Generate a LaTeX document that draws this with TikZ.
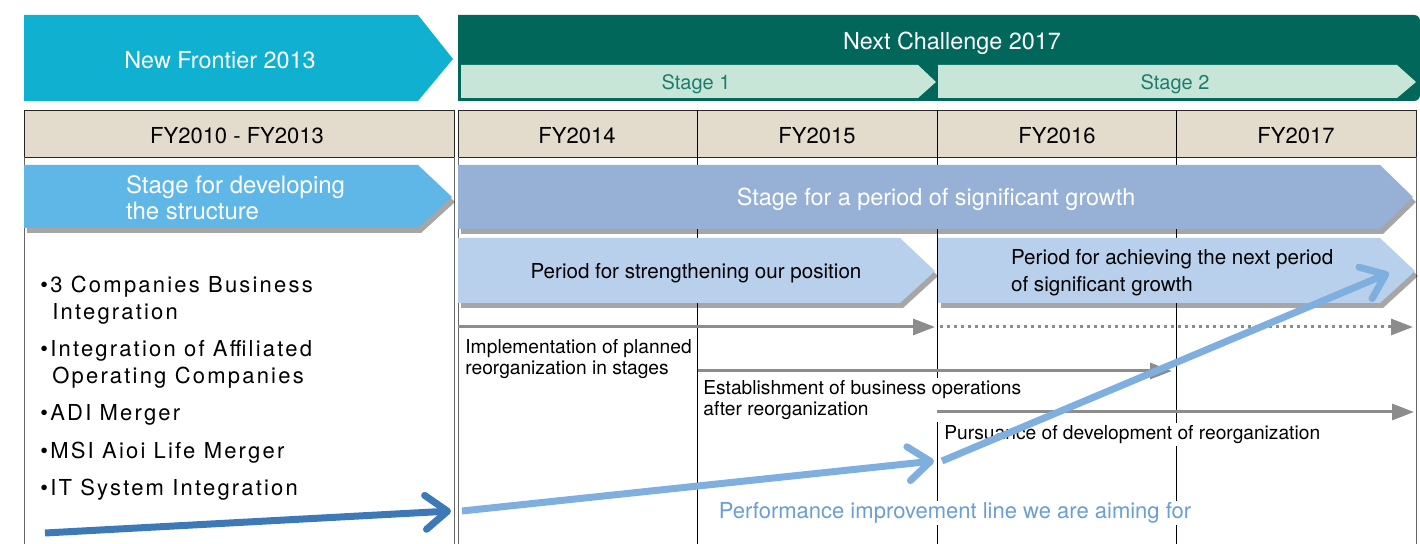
\documentclass[tikz,border=0pt]{standalone}
\usepackage{fontspec}
\setmainfont{TeX Gyre Heros}
\newfontfamily\widefont[LetterSpace=10]{TeX Gyre Heros}
\usetikzlibrary{arrows.meta,shadows}

\definecolor{nfcyan}{RGB}{16,176,208}
\definecolor{ncgreen}{RGB}{2,103,91}
\definecolor{stgreen}{RGB}{200,230,216}
\definecolor{stteal}{RGB}{30,124,108}
\definecolor{hdrbeige}{RGB}{227,220,204}
\definecolor{devblue}{RGB}{95,183,232}
\definecolor{growblue}{RGB}{151,176,214}
\definecolor{periodblue}{RGB}{184,208,236}
\definecolor{perfdark}{RGB}{61,121,182}
\definecolor{perflight}{RGB}{127,175,223}
\definecolor{perftext}{RGB}{106,158,214}

\begin{document}
\begin{tikzpicture}[x=0.5pt,y=-0.5pt,
  bigtext/.style={font=\fontsize{11.7}{13}\selectfont, text=white},
  yeartext/.style={font=\fontsize{11}{13}\selectfont},
  periodtext/.style={font=\fontsize{10.3}{13.5}\selectfont, align=left},
  notetext/.style={font=\fontsize{9.6}{10.5}\selectfont, align=left, fill=white, inner sep=1pt, anchor=north west},
  itemtext/.style={font=\widefont\fontsize{11}{13.5}\selectfont, align=left, anchor=west, inner sep=0pt},
  shade/.style={drop shadow={shadow xshift=1.5pt, shadow yshift=-2.5pt, fill=black, opacity=0.35}},
  steparrow/.style={draw=black!45, line width=1.5pt, -{Triangle[length=11pt,width=8pt]}},
  perfarrow/.style={line width=3.5pt, -{Straight Barb[length=11pt,width=17pt,round]}}]
  \useasboundingbox (0,0) rectangle (1420,544);

  % plans along the top
  \fill[nfcyan] (24,15) -- (418,15) -- (453,59) -- (418,101) -- (24,101) -- cycle;
  \node[bigtext] (nf) at (220,60) {New Frontier 2013};
  \fill[ncgreen] (458,101) -- (458,15) [rounded corners=3pt] -- (1420,15) -- (1420,101) [sharp corners] -- cycle;
  \node[bigtext] (nc) at (952,43) {Next Challenge 2017};
  \fill[stgreen] (461,65) -- (918,65) -- (936,82) -- (918,98) -- (461,98) -- cycle;
  \fill[stgreen] (938,65) -- (1397,65) -- (1416,82) -- (1397,98) -- (938,98) -- cycle;
  \node[font=\fontsize{10}{12}\selectfont, text=stteal] (stage one) at (696,84) {Stage 1};
  \node[font=\fontsize{10}{12}\selectfont, text=stteal] (stage two) at (1175,84) {Stage 2};

  % year table
  \filldraw[fill=hdrbeige, draw=black!85] (24,110) rectangle (454,157);
  \filldraw[fill=hdrbeige, draw=black!85] (458,110) rectangle (1416,157);
  \draw[black!60] (24,157) -- (24,544) (454,157) -- (454,544) (458,157) -- (458,544) (1416,157) -- (1416,544);
  \foreach \xx in {697,937,1176}
    \draw (\xx,110) -- (\xx,544);
  \node[yeartext] (fy old) at (237,136) {FY2010 - FY2013};
  \node[yeartext] (fy14) at (577,136) {FY2014};
  \node[yeartext] (fy15) at (817,136) {FY2015};
  \node[yeartext] (fy16) at (1057,136) {FY2016};
  \node[yeartext] (fy17) at (1296,136) {FY2017};

  % stages
  \fill[devblue, shade] (24,165) -- (418,165) -- (452,197) -- (418,228) -- (24,228) -- cycle;
  \node[bigtext, font=\fontsize{12}{13}\selectfont, align=left, anchor=west] (dev) at (119,198) {Stage for developing\\the structure};
  \fill[growblue, shade] (458,165) -- (1380,165) -- (1413,197) -- (1380,229) -- (458,229) -- cycle;
  \node[bigtext] (grow) at (936,199) {Stage for a period of significant growth};
  \fill[periodblue, shade] (458,238) -- (900,238) -- (935,271) -- (900,303) -- (458,303) -- cycle;
  \node[periodtext] (strengthen) at (696,273) {Period for strengthening our position};
  \fill[periodblue, shade] (938,238) -- (1380,238) -- (1415,271) -- (1380,303) -- (938,303) -- cycle;
  \node[periodtext, anchor=west] (achieve) at (1004,273) {Period for achieving the next period\\of significant growth};

  % what was done before
  \node[itemtext] (item one) at (40,300) {•3 Companies Business\\\ \,Integration};
  \node[itemtext] (item two) at (40,364) {•Integration of Affiliated\\\ \,Operating Companies};
  \node[itemtext] (item three) at (40,415) {•ADI Merger};
  \node[itemtext] (item four) at (40,453) {•MSI Aioi Life Merger};
  \node[itemtext] (item five) at (40,490) {•IT System Integration};

  % reorganization steps
  \node[notetext] (impl) at (463,337) {Implementation of planned\\reorganization in stages};
  \node[notetext] (est) at (701,378) {Establishment of business operations\\after reorganization};
  \node[notetext] (pur) at (942,423) {Pursuance of development of reorganization};
  \coordinate (impl start) at (458,327);
  \coordinate (impl end) at (935,327);
  \coordinate (impl more) at (940,327);
  \coordinate (impl far) at (1413,327);
  \coordinate (est start) at (698,371);
  \coordinate (est end) at (1172,371);
  \coordinate (pur start) at (937,412);
  \coordinate (pur end) at (1414,412);
  \draw[steparrow] (impl start) -- (impl end);
  \draw[steparrow, dotted] (impl more) -- (impl far);
  \draw[steparrow] (est start) -- (est end);
  \draw[steparrow] (pur start) -- (pur end);

  % performance line
  \coordinate (perf0) at (45,533);
  \coordinate (perf1) at (451,511);
  \coordinate (perf2) at (462,511);
  \coordinate (perf3) at (934,461);
  \coordinate (perf4) at (942,461);
  \coordinate (perf5) at (1389,273);
  \draw[perfarrow, perfdark] (perf0) -- (perf1);
  \draw[perfarrow, perflight] (perf2) -- (perf3);
  \draw[perfarrow, perflight] (perf4) -- (perf5);
  \node[font=\fontsize{11}{13}\selectfont, text=perftext, fill=white, inner sep=1pt] (perf) at (955,513) {Performance improvement line we are aiming for};
\end{tikzpicture}
\end{document}
